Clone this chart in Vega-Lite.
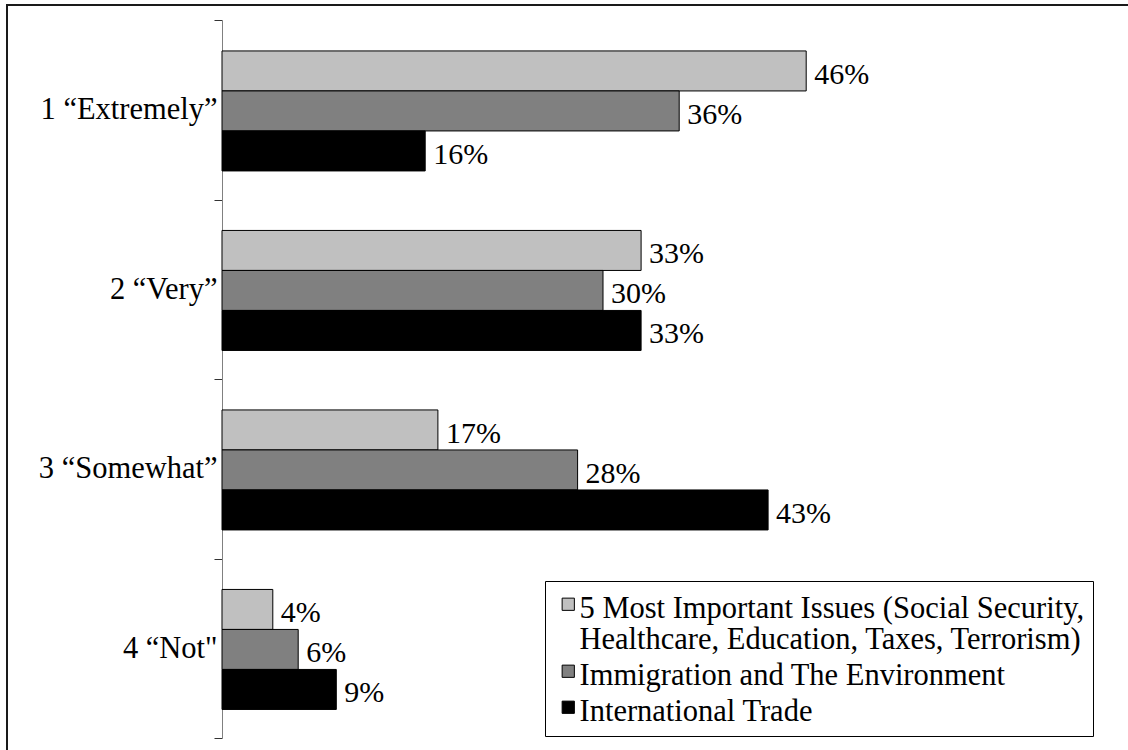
{
  "$schema": "https://vega.github.io/schema/vega-lite/v6.json",
  "autosize": {"type": "none"},
  "padding": {"left": 7, "top": 5, "right": 0, "bottom": 0},
  "width": 1125,
  "height": 750,
  "background": "white",
  "config": {
    "view": {"stroke": "#1a1a1a", "strokeWidth": 2},
    "font": "Liberation Serif",
    "style": {"guide-label": {"lineHeight": 31}}
  },
  "data": {
    "values": [
      {"level": "1 “Extremely”", "series": "5 Most Important Issues (Social Security, Healthcare, Education, Taxes, Terrorism)", "share": 0.46},
      {"level": "1 “Extremely”", "series": "Immigration and The Environment", "share": 0.36},
      {"level": "1 “Extremely”", "series": "International Trade", "share": 0.16},
      {"level": "2 “Very”", "series": "5 Most Important Issues (Social Security, Healthcare, Education, Taxes, Terrorism)", "share": 0.33},
      {"level": "2 “Very”", "series": "Immigration and The Environment", "share": 0.30},
      {"level": "2 “Very”", "series": "International Trade", "share": 0.33},
      {"level": "3 “Somewhat”", "series": "5 Most Important Issues (Social Security, Healthcare, Education, Taxes, Terrorism)", "share": 0.17},
      {"level": "3 “Somewhat”", "series": "Immigration and The Environment", "share": 0.28},
      {"level": "3 “Somewhat”", "series": "International Trade", "share": 0.43},
      {"level": "4 “Not\"", "series": "5 Most Important Issues (Social Security, Healthcare, Education, Taxes, Terrorism)", "share": 0.04},
      {"level": "4 “Not\"", "series": "Immigration and The Environment", "share": 0.06},
      {"level": "4 “Not\"", "series": "International Trade", "share": 0.09}
    ]
  },
  "encoding": {
    "y": {
      "field": "level",
      "type": "nominal",
      "sort": null,
      "title": null,
      "scale": {"range": [15, 733], "paddingInner": 0, "paddingOuter": 0},
      "axis": {
        "orient": "left",
        "offset": -215,
        "domainColor": "#808080",
        "domainWidth": 1,
        "tickBand": "extent",
        "tickSize": 8,
        "tickColor": "#333333",
        "labelPadding": -3,
        "labelFont": "Liberation Serif",
        "labelFontSize": 30.5,
        "labelColor": "#000000",
        "labelLimit": 300
      }
    },
    "yOffset": {
      "field": "series",
      "type": "nominal",
      "sort": null,
      "scale": {"paddingInner": 0, "paddingOuter": 0.74375, "align": 0.52}
    },
    "x": {
      "field": "share",
      "type": "quantitative",
      "title": null,
      "scale": {"domain": [0, 0.7], "range": [215, 1104]},
      "axis": null
    }
  },
  "layer": [
    {
      "mark": {"type": "bar", "stroke": "#000000", "strokeWidth": 1},
      "encoding": {
        "color": {
          "field": "series",
          "type": "nominal",
          "sort": null,
          "scale": {"range": ["#c0c0c0", "#808080", "#000000"]},
          "legend": {
            "orient": "none",
            "legendX": 538,
            "legendY": 576,
            "title": null,
            "symbolType": "square",
            "symbolSize": 150,
            "symbolStrokeColor": "#000000",
            "symbolStrokeWidth": 1,
            "labelFont": "Liberation Serif",
            "labelFontSize": 30.5,
            "labelColor": "#000000",
            "labelLimit": 700,
            "labelOffset": -4,
            "labelBaseline": "alphabetic",
            "labelExpr": "indexof(datum.label, '5 Most') == 0 ? ['5 Most Important Issues (Social Security,', 'Healthcare, Education, Taxes, Terrorism)'] : datum.label",
            "rowPadding": 0,
            "padding": 8,
            "strokeColor": "#000000",
            "fillColor": "#ffffff",
            "encoding": {
              "labels": {"dy": {"value": 14}, "lineHeight": {"value": 31}}
            }
          }
        }
      }
    },
    {
      "mark": {
        "type": "text",
        "align": "left",
        "baseline": "middle",
        "dx": 8,
        "dy": 4,
        "font": "Liberation Serif",
        "fontSize": 30,
        "color": "#000000"
      },
      "encoding": {
        "text": {"field": "share", "type": "quantitative", "format": ".0%"}
      }
    }
  ]
}
